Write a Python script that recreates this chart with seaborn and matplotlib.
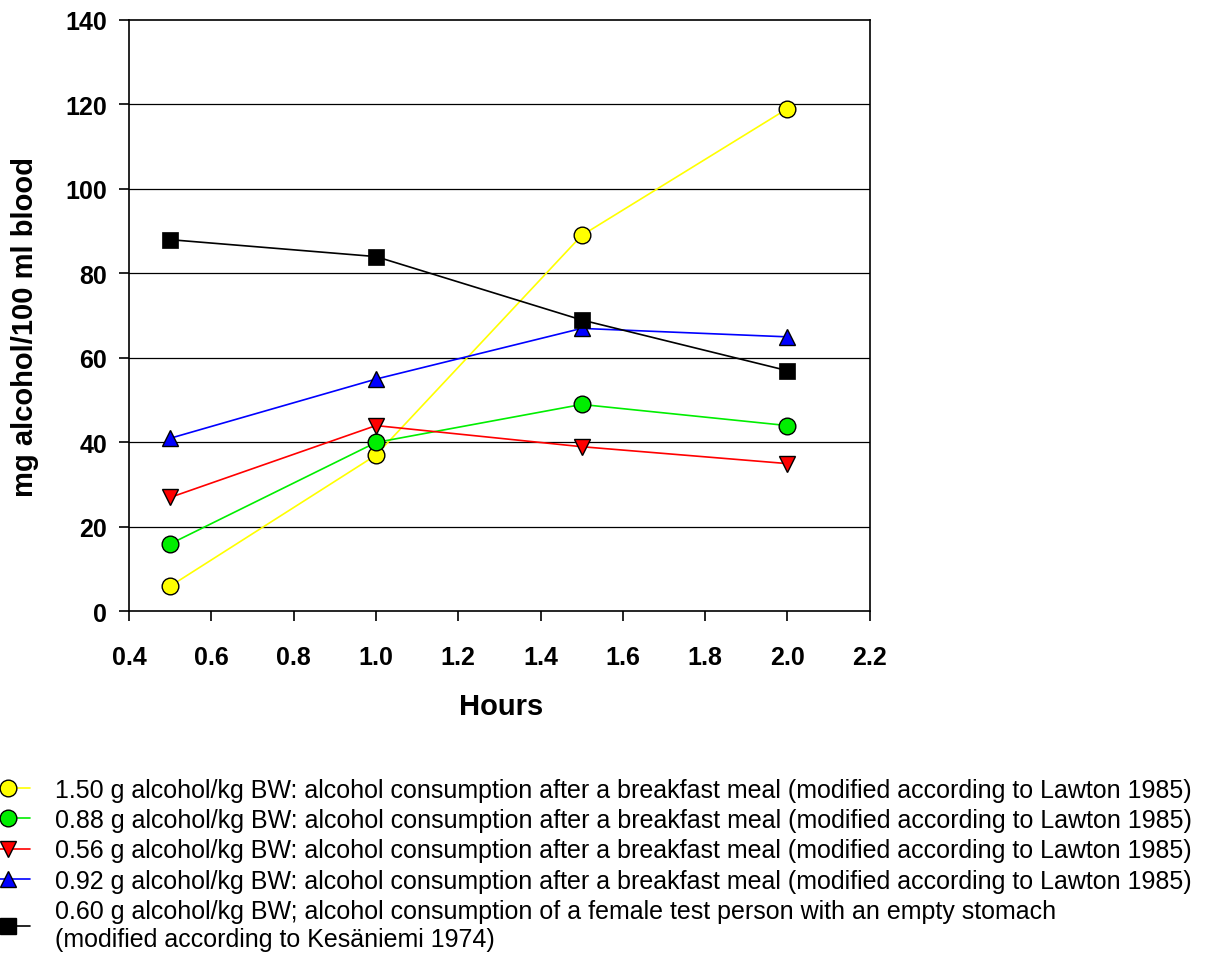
import seaborn as sns
import pandas as pd
import numpy as np
from matplotlib import pyplot as plt
from matplotlib.lines import Line2D

hours = [0.5, 1.0, 1.5, 2.0]
yellow_150 = [6, 37, 89, 119]
green_088 = [16, 40, 49, 44]
red_056 = [27, 44, 39, 35]
blue_092 = [41, 55, 67, 65]
black_060 = [88, 84, 69, 57]

labels = [
    "1.50 g alcohol/kg BW: alcohol consumption after a breakfast meal (modified according to Lawton 1985)",
    "0.88 g alcohol/kg BW: alcohol consumption after a breakfast meal (modified according to Lawton 1985)",
    "0.56 g alcohol/kg BW: alcohol consumption after a breakfast meal (modified according to Lawton 1985)",
    "0.92 g alcohol/kg BW: alcohol consumption after a breakfast meal (modified according to Lawton 1985)",
    "0.60 g alcohol/kg BW; alcohol consumption of a female test person with an empty stomach\n(modified according to Kesäniemi 1974)",
]

series = [yellow_150, green_088, red_056, blue_092, black_060]
colors = ["#FFFF00", "#00EE00", "#FF0000", "#0000FF", "#000000"]
markers = ["o", "o", "v", "^", "s"]

sns.set_style("white")
plt.rcParams['font.family'] = ['Liberation Sans', 'DejaVu Sans']
plt.rcParams['text.color'] = 'black'
plt.rcParams['axes.labelcolor'] = 'black'

fig = plt.figure(figsize=(12.18, 9.54), dpi=100)
ax = fig.add_axes([0.106, 0.358, 0.608, 0.620])

for y in [20, 40, 60, 80, 100, 120]:
    ax.axhline(y, color="black", lw=0.9, zorder=0)

handles = []
for vals, col, mk, lab in zip(series, colors, markers, labels):
    df = pd.DataFrame({"Hours": hours, "value": vals})
    sns.lineplot(data=df, x="Hours", y="value", ax=ax, color=col, lw=1.2,
                 marker=mk, markersize=12, markeredgecolor="black",
                 markerfacecolor=col, markeredgewidth=1.0 if mk != "s" else 0.5)
    handles.append(Line2D([0], [0], color=col, lw=1.2, marker=mk, markersize=12,
                          markerfacecolor=col, markeredgecolor="black"))

ax.set_xlim(0.4, 2.2)
ax.set_ylim(0, 140)
ax.set_xticks(np.arange(0.4, 2.21, 0.2))
ax.set_xticklabels([f"{v:.1f}" for v in np.arange(0.4, 2.21, 0.2)])
ax.set_yticks(range(0, 141, 20))
for s in ax.spines.values():
    s.set_color("black")
    s.set_linewidth(1.2)
ax.tick_params(axis="both", direction="out", length=7, width=1.2, colors="black",
               labelsize=18, bottom=True, left=True)
ax.tick_params(axis="y", pad=9)
ax.tick_params(axis="x", pad=17)
for t in ax.get_xticklabels() + ax.get_yticklabels():
    t.set_fontweight("bold")
ax.set_xlabel("Hours", fontsize=21, fontweight="bold", labelpad=17)
ax.set_ylabel("mg alcohol/100 ml blood", fontsize=21, fontweight="bold", labelpad=19)
ax.xaxis.label.set_x(0.503)
ax.yaxis.label.set_y(0.482)

fig.legend(handles, labels, loc="upper left", bbox_to_anchor=(-0.0123, 0.1835),
           frameon=False, fontsize=18, handlelength=1.8, handletextpad=1.0,
           labelspacing=0.25, borderaxespad=0, borderpad=0)

fig.savefig("out.png", dpi=100)
